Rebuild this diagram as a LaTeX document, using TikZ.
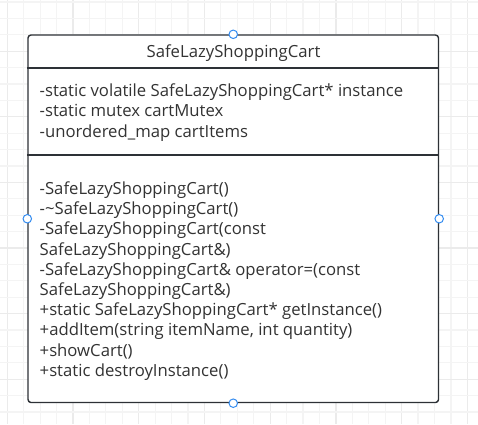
\documentclass[tikz,border=0pt]{standalone}
\usepackage{fontspec}
\setmainfont{Open Sans}
\definecolor{gridlight}{RGB}{244,244,244}
\definecolor{griddark}{RGB}{235,235,235}
\definecolor{boxline}{RGB}{45,49,54}
\definecolor{txtcol}{RGB}{51,51,51}
\definecolor{handleblue}{RGB}{52,140,240}
\tikzset{
  classbox/.style={draw=boxline, line width=1.4pt, fill=white, rounded corners=3pt, inner sep=0pt},
  divider/.style={draw=boxline, line width=1.6pt},
  txt/.style={inner sep=0pt, text=txtcol, font=\fontsize{16.7}{20}\selectfont},
  handle/.style={circle, draw=handleblue, fill=white, line width=1pt, minimum size=8.5pt, inner sep=0pt},
}
\begin{document}
\begin{tikzpicture}[x=1pt,y=-1pt]
\useasboundingbox (0,0) rectangle (478,424);
\fill[white] (0,0) rectangle (478,424);
% grid
\foreach \i in {0,...,28}{
  \pgfmathtruncatemacro{\m}{mod(\i,4)}
  \ifnum\m=0 \def\gc{griddark}\else\def\gc{gridlight}\fi
  \draw[\gc, line width=1.2pt] ({7.3+16.43*\i},0) -- ({7.3+16.43*\i},424);
}
\foreach \j in {0,...,25}{
  \pgfmathtruncatemacro{\m}{mod(\j,4)}
  \ifnum\m=3 \def\gc{griddark}\else\def\gc{gridlight}\fi
  \draw[\gc, line width=1.2pt] (0,{1.9+16.4*\j}) -- (478,{1.9+16.4*\j});
}
% class box
\node[classbox, minimum width=410.5pt, minimum height=367.5pt] (box) at (233.25,218.75) {};
\coordinate (d1) at (0,67.7);
\coordinate (d2) at (0,155);
\draw[divider] (box.west |- d1) -- (box.east |- d1);
\draw[divider] (box.west |- d2) -- (box.east |- d2);
% title
\node[txt, anchor=base] (title) at (233.5,57.7) {SafeLazyShoppingCart};
% attributes
\node[txt, anchor=base west] (a1) at (39.5,96.7) {-static volatile SafeLazyShoppingCart* instance};
\node[txt, anchor=base west] (a2) at (39.5,116.9) {-static mutex cartMutex};
\node[txt, anchor=base west] (a3) at (39.5,137.1) {-unordered\_map cartItems};
% methods
\node[txt, anchor=base west] (m1) at (39.5,194.5) {-SafeLazyShoppingCart()};
\node[txt, anchor=base west] (m2) at (39.5,214.7) {-\textasciitilde SafeLazyShoppingCart()};
\node[txt, anchor=base west] (m3) at (39.5,234.9) {-SafeLazyShoppingCart(const};
\node[txt, anchor=base west] (m4) at (39.5,255.1) {SafeLazyShoppingCart\&)};
\node[txt, anchor=base west] (m5) at (39.5,275.3) {-SafeLazyShoppingCart\& operator=(const};
\node[txt, anchor=base west] (m6) at (39.5,295.5) {SafeLazyShoppingCart\&)};
\node[txt, anchor=base west] (m7) at (39.5,315.7) {+static SafeLazyShoppingCart* getInstance()};
\node[txt, anchor=base west] (m8) at (39.5,335.9) {+addItem(string itemName, int quantity)};
\node[txt, anchor=base west] (m9) at (39.5,356.1) {+showCart()};
\node[txt, anchor=base west] (m10) at (39.5,376.3) {+static destroyInstance()};
% handles
\node[handle] (hn) at (box.north) {};
\node[handle] (hs) at (box.south) {};
\node[handle] (hw) at (box.west) {};
\node[handle] (he) at (box.east) {};
\end{tikzpicture}
\end{document}
